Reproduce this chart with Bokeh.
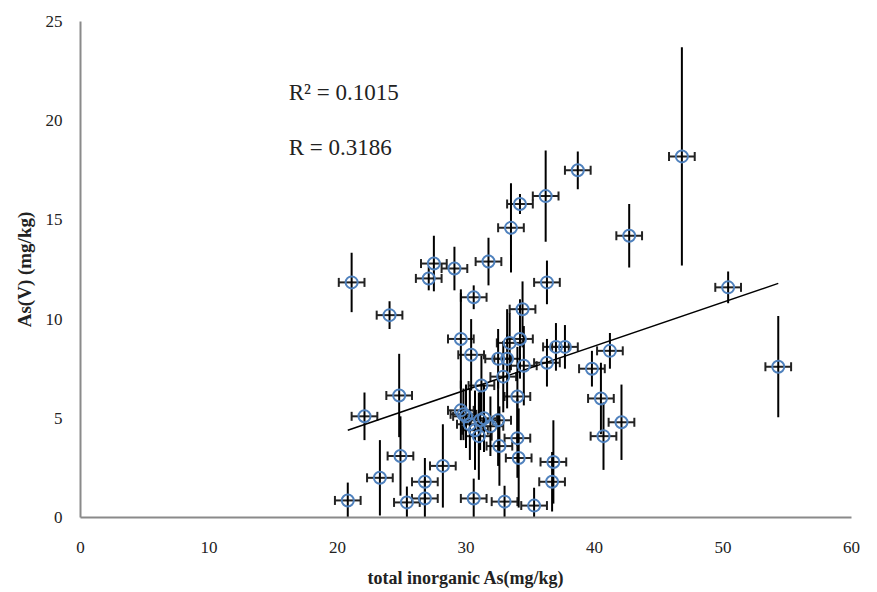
from bokeh.plotting import figure
from bokeh.models import ColumnDataSource, Range1d, Whisker, TeeHead, Label
from bokeh.embed import file_html
from bokeh.resources import INLINE

# data (total inorganic As, As(V), y error)
tot_as = [20.8, 21.1, 22.1, 23.3, 24.05, 24.8, 24.9, 25.4, 26.8, 26.8,
          27.1, 27.5, 28.2, 29.1, 29.6, 29.6, 29.8, 30.0, 30.3, 30.4,
          30.6, 30.6, 30.7, 31.0, 31.1, 31.2, 31.4, 31.75, 31.9, 32.5,
          32.5, 32.6, 32.9, 33.0, 33.2, 33.4, 33.5, 34.0, 34.0, 34.1,
          34.2, 34.2, 34.4, 34.5, 35.3, 36.2, 36.3, 36.3, 36.7, 36.8,
          37.0, 37.7, 38.7, 39.8, 40.5, 40.7, 41.2, 42.1, 42.7, 46.8,
          50.4, 54.3]
as_v = [0.86, 11.85, 5.1, 2.0, 10.2, 6.15, 3.1, 0.76, 1.8, 0.96,
        12.05, 12.8, 2.6, 12.55, 9.0, 5.4, 5.2, 5.1, 4.7, 8.2,
        11.1, 0.96, 4.4, 4.1, 4.9, 6.65, 5.0, 12.9, 4.6, 8.0,
        4.9, 3.6, 7.1, 0.8, 8.0, 8.8, 14.6, 6.1, 4.0, 3.0,
        15.8, 9.0, 10.5, 7.65, 0.6, 16.2, 11.85, 7.8, 1.8, 2.8,
        8.6, 8.6, 17.5, 7.5, 6.0, 4.1, 8.4, 4.8, 14.2, 18.2,
        11.6, 7.6]
y_err = [0.9, 1.5, 1.2, 1.9, 0.7, 2.1, 2.0, 0.8, 1.2, 1.0,
         0.6, 1.4, 2.1, 1.1, 2.5, 1.5, 1.3, 1.6, 1.8, 1.8,
         0.6, 1.0, 2.0, 2.2, 1.5, 1.5, 1.7, 1.2, 1.5, 1.5,
         2.3, 2.0, 1.8, 0.8, 2.5, 1.5, 2.25, 2.5, 2.0, 2.5,
         0.5, 2.0, 1.4, 2.0, 0.9, 2.3, 1.1, 1.2, 1.5, 2.1,
         1.2, 1.1, 0.95, 0.9, 1.8, 1.7, 0.9, 1.9, 1.6, 5.5,
         0.8, 2.55]
x_err = [1.0] * len(tot_as)

trend_slope = 0.2209
trend_intercept = -0.195
r2_text = "R\u00b2 = 0.1015"
r_text = "R = 0.3186"
x_ticks = [0, 10, 20, 30, 40, 50, 60]
y_ticks = [0, 5, 10, 15, 20, 25]

src = ColumnDataSource(dict(
    x=tot_as, y=as_v,
    ylo=[a - e for a, e in zip(as_v, y_err)],
    yhi=[a + e for a, e in zip(as_v, y_err)],
    xlo=[a - e for a, e in zip(tot_as, x_err)],
    xhi=[a + e for a, e in zip(tot_as, x_err)],
))

p = figure(width=877, height=592, output_backend="svg", toolbar_location=None,
           x_range=Range1d(0, 60), y_range=Range1d(0, 25),
           min_border_left=80, min_border_right=26, min_border_top=21, min_border_bottom=75)
p.outline_line_color = None
p.xgrid.visible = False
p.ygrid.visible = False
p.background_fill_color = "white"

serif = "Liberation Serif"
for ax in (p.xaxis[0], p.yaxis[0]):
    ax.axis_line_color = "#8a8a8a"
    ax.axis_line_width = 2
    ax.major_tick_line_color = None
    ax.minor_tick_line_color = None
    ax.major_label_text_font = serif
    ax.major_label_text_font_size = "17px"
    ax.major_label_text_color = "#222222"
    ax.axis_label_text_font = serif
    ax.axis_label_text_font_style = "bold"
    ax.axis_label_text_color = "#222222"

p.xaxis.axis_label_text_font_size = "18px"
p.yaxis.axis_label_text_font_size = "19px"
p.xaxis.ticker = x_ticks
p.yaxis.ticker = y_ticks
p.xaxis.axis_label = "total inorganic As(mg/kg)"
p.yaxis.axis_label = "As(V) (mg/kg)"
p.xaxis.major_label_standoff = 18
p.yaxis.major_label_standoff = 12
p.xaxis.axis_label_standoff = 12
p.yaxis.axis_label_standoff = 8

# vertical error bars
p.segment(x0="x", y0="ylo", x1="x", y1="yhi", source=src, line_color="black", line_width=2)
# horizontal error bars with caps
wh = Whisker(base="y", lower="xlo", upper="xhi", dimension="width", source=src,
             line_color="#222222", line_width=2,
             lower_head=TeeHead(size=9, line_color="#222222", line_width=2),
             upper_head=TeeHead(size=9, line_color="#222222", line_width=2))
p.add_layout(wh)

# trend line
xmin, xmax = min(tot_as), max(tot_as)
p.line([xmin, xmax], [trend_slope * xmin + trend_intercept, trend_slope * xmax + trend_intercept],
       line_color="black", line_width=1.5)

p.scatter(x="x", y="y", source=src, marker="circle", size=12,
          fill_color=None, line_color="#4F81BD", line_width=2)

p.add_layout(Label(x=16.2, y=21.4, text=r2_text, text_font=serif, text_font_size="23px",
                   text_baseline="middle", text_color="#222222"))
p.add_layout(Label(x=16.2, y=18.65, text=r_text, text_font=serif, text_font_size="23px",
                   text_baseline="middle", text_color="#222222"))

open("out.html", "w").write(file_html(p, INLINE))
